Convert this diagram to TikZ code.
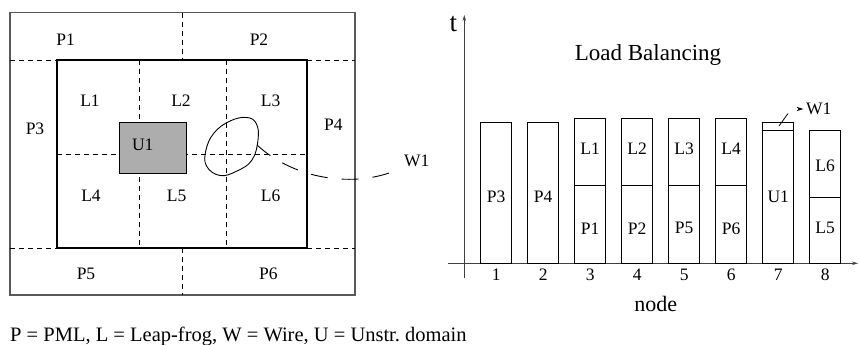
\documentclass[tikz,border=0pt]{standalone}
\usepackage{fontspec}
\setmainfont{Liberation Serif}
\usetikzlibrary{arrows.meta}
\tikzset{
  lbl/.style={font=\fontsize{17.5}{20}\selectfont, inner sep=0pt},
  dsh/.style={line width=0.8pt, dash pattern=on 5pt off 4pt},
  barbox/.style={draw, line width=1pt},
  axisline/.style={line width=0.8pt, draw=black!75, -{Stealth[length=6pt,width=3.5pt]}},
}
\begin{document}
\begin{tikzpicture}[x=1pt,y=-1pt]
\useasboundingbox (0,0) rectangle (859,345);
% ---------- left: domain ----------
\draw[line width=1.1pt, draw=black!65] (10,12.7) rectangle (355,295);
\draw[dsh] (10,60) -- (355,60);
\draw[dsh] (10,248.3) -- (355,248.3);
\draw[dsh] (182.3,12.7) -- (182.3,60);
\draw[dsh] (182.3,248.3) -- (182.3,295);
\draw[dsh] (139,60) -- (139,248.3);
\draw[dsh] (226,60) -- (226,248.3);
\draw[dsh] (57.3,154) -- (307.3,154);
\draw[line width=1.8pt] (57.3,60) rectangle (307.3,248.3);
% unstructured domain
\draw[line width=1pt, fill=black!32] (119.3,122.3) rectangle (186.7,173.3);
\node[lbl] (u1) at (142.7,145) {U1};
% wire blob
\draw[line width=0.9pt] plot[smooth cycle, tension=0.7] coordinates {(247,117.5) (256.5,124) (258,140) (252,160) (237,171) (220,175.5) (206.5,166) (206,150) (214,133) (230,121)};
\coordinate (wa) at (257,145);
\node[lbl, anchor=west] (w1a) at (404,161) {W1};
\draw[line width=0.9pt, dash pattern=on 17pt off 14pt] (wa) .. controls (295,180) and (355,188) .. (397,170);
% labels
\node[lbl] (p1) at (65.7,39.3) {P1};
\node[lbl] (p2) at (259,39.3) {P2};
\node[lbl] (l1) at (90,101) {L1};
\node[lbl] (l2) at (181,101) {L2};
\node[lbl] (l3) at (270.7,101) {L3};
\node[lbl] (p3) at (35,128.5) {P3};
\node[lbl] (p4) at (333.3,125) {P4};
\node[lbl] (l4) at (91,196) {L4};
\node[lbl] (l5) at (176.7,196) {L5};
\node[lbl] (l6) at (270.7,196) {L6};
\node[lbl] (p5) at (86,274) {P5};
\node[lbl] (p6) at (268.3,274) {P6};
% ---------- right: load balancing ----------
\coordinate (yb) at (464.3,278);
\coordinate (yt) at (464.3,15);
\coordinate (xl) at (448,263.3);
\coordinate (xr) at (858,263.3);
\draw[axisline] (yb) -- (yt);
\draw[axisline] (xl) -- (xr);
\node[font=\fontsize{27}{30}\selectfont, inner sep=0pt, anchor=base] (t) at (453.3,31.7) {t};
\node[font=\fontsize{23}{26}\selectfont, inner sep=0pt, anchor=base] (lb) at (648,61) {Load Balancing};
\node[font=\fontsize{22}{26}\selectfont, inner sep=0pt, anchor=base] (nd) at (655.8,311.5) {node};
\foreach \i/\tp in {1/122.7,2/122.7,3/118.3,4/118.3,5/118.3,6/118.3,7/122.7,8/130.7}{
  \pgfmathsetmacro{\cx}{496.2+47*(\i-1)}
  \draw[barbox] (\cx-15.75,\tp) rectangle (\cx+15.75,263.3);
  \node[lbl] (n\i) at (\cx,274.5) {\i};
}
\draw[line width=1pt] (574.45,185) -- (605.95,185);
\draw[line width=1pt] (621.45,185) -- (652.95,185);
\draw[line width=1pt] (668.45,185) -- (699.95,185);
\draw[line width=1pt] (715.45,185) -- (746.95,185);
\draw[line width=1pt] (762.45,130) -- (793.95,130);
\draw[line width=1pt] (809.45,197.3) -- (840.95,197.3);
\node[lbl] (bp3) at (496.2,196.7) {P3};
\node[lbl] (bp4) at (543.2,196.7) {P4};
\node[lbl] (bl1) at (590.2,149) {L1};
\node[lbl] (bp1) at (590.2,228.3) {P1};
\node[lbl] (bl2) at (637.2,149) {L2};
\node[lbl] (bp2) at (637.2,228.3) {P2};
\node[lbl] (bl3) at (684.2,149) {L3};
\node[lbl] (bp5) at (684.2,228.3) {P5};
\node[lbl] (bl4) at (731.2,149) {L4};
\node[lbl] (bp6) at (731.2,228.3) {P6};
\node[lbl] (bu1) at (778.2,196.7) {U1};
\node[lbl] (bl6) at (825.2,165.7) {L6};
\node[lbl] (bl5) at (825.2,228.3) {L5};
% W1 pointer
\node[lbl, anchor=west] (w1b) at (806,109) {W1};
\coordinate (wb) at (779,126);
\coordinate (wc) at (788,113.5);
\draw[line width=0.8pt] (wb) -- (wc);
\fill (796.5,106.8) -- (803.5,109) -- (796.5,111.2) -- (798.5,109) -- cycle;
% ---------- legend ----------
\node[font=\fontsize{20.5}{24}\selectfont, inner sep=0pt, anchor=base west] (leg) at (10,341.5) {P = PML, L = Leap-frog, W = Wire, U = Unstr.\ domain};
\end{tikzpicture}
\end{document}
